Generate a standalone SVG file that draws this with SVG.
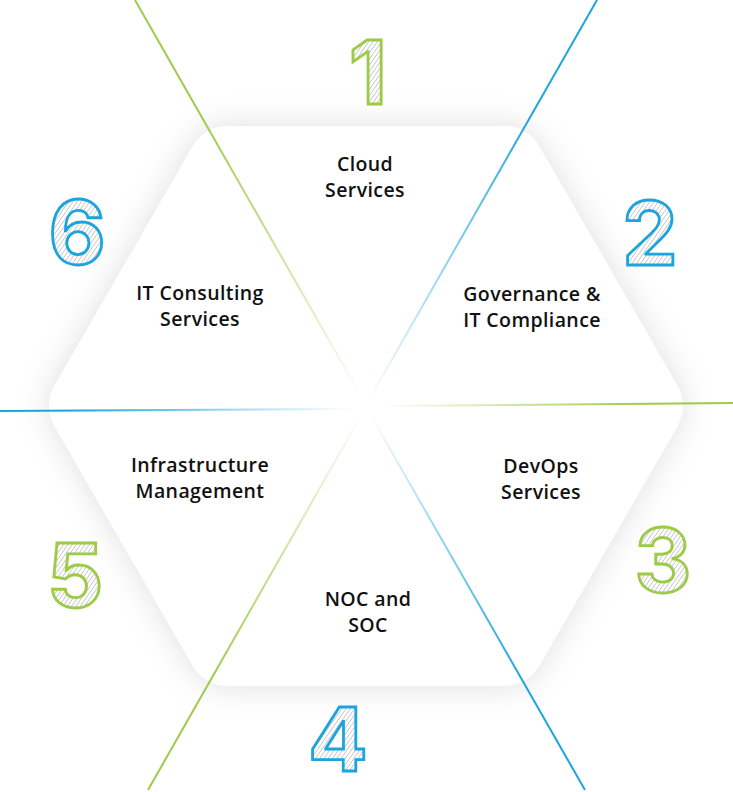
<svg xmlns="http://www.w3.org/2000/svg" width="733" height="792" viewBox="0 0 733 792">
<defs>
<style>
.lbl{font-family:"Open Sans","Liberation Sans",sans-serif;font-weight:600;font-size:19.5px;letter-spacing:0.4px;fill:#111;text-anchor:middle}
.num{font-family:Inter,"Open Sans","Liberation Sans",sans-serif;font-weight:700;font-size:88px;text-anchor:middle;fill:url(#hatch);stroke-width:2.8}
.g{stroke:#9dcb48}
.b{stroke:#1ba5de}
.ln{stroke-width:2;fill:none}
</style>
<pattern id="hatch" width="3.5" height="3.5" patternUnits="userSpaceOnUse" patternTransform="rotate(35)">
<rect width="3.5" height="3.5" fill="#fff"/>
<line x1="0" y1="0" x2="0" y2="3.5" stroke="#b4b4b4" stroke-width="1.3"/>
</pattern>
<filter id="sh" x="-20%" y="-20%" width="140%" height="140%">
<feDropShadow dx="0" dy="0" stdDeviation="16" flood-color="#000" flood-opacity="0.13"/>
</filter>
<linearGradient id="gTL" gradientUnits="userSpaceOnUse" x1="135" y1="0" x2="362" y2="398"><stop offset="0.3" stop-color="#9dcb48"/><stop offset="1" stop-color="#9dcb48" stop-opacity="0"/></linearGradient>
<linearGradient id="gTR" gradientUnits="userSpaceOnUse" x1="597" y1="0" x2="370" y2="398"><stop offset="0.3" stop-color="#1ba5de"/><stop offset="1" stop-color="#1ba5de" stop-opacity="0"/></linearGradient>
<linearGradient id="gR" gradientUnits="userSpaceOnUse" x1="733" y1="403" x2="380" y2="406"><stop offset="0.25" stop-color="#9dcb48"/><stop offset="1" stop-color="#9dcb48" stop-opacity="0"/></linearGradient>
<linearGradient id="gL" gradientUnits="userSpaceOnUse" x1="0" y1="411" x2="352" y2="409"><stop offset="0.2" stop-color="#1ba5de"/><stop offset="1" stop-color="#1ba5de" stop-opacity="0"/></linearGradient>
<linearGradient id="gBL" gradientUnits="userSpaceOnUse" x1="148" y1="790" x2="362" y2="414"><stop offset="0.3" stop-color="#9dcb48"/><stop offset="1" stop-color="#9dcb48" stop-opacity="0"/></linearGradient>
<linearGradient id="gBR" gradientUnits="userSpaceOnUse" x1="585" y1="790" x2="370" y2="414"><stop offset="0.3" stop-color="#1ba5de"/><stop offset="1" stop-color="#1ba5de" stop-opacity="0"/></linearGradient>
</defs>
<rect width="733" height="792" fill="#fff"/>
<g id="hexagon">
<path filter="url(#sh)" fill="#fff" d="M229.5,126 L502.5,126 Q527.5,126 540,147.65 L676.5,384.35 Q689,406 676.5,427.65 L540,664.35 Q527.5,686 502.5,686 L229.5,686 Q204.5,686 192,664.35 L55.5,427.65 Q43,406 55.5,384.35 L192,147.65 Q204.5,126 229.5,126 Z"/>
</g>
<g id="connectors">
<line class="ln" stroke="url(#gTL)" x1="135" y1="0" x2="362" y2="398"/>
<line class="ln" stroke="url(#gTR)" x1="597" y1="0" x2="370" y2="398"/>
<line class="ln" stroke="url(#gR)" x1="733" y1="403" x2="380" y2="406"/>
<line class="ln" stroke="url(#gL)" x1="0" y1="411" x2="352" y2="409"/>
<line class="ln" stroke="url(#gBL)" x1="148" y1="790" x2="362" y2="414"/>
<line class="ln" stroke="url(#gBR)" x1="585" y1="790" x2="370" y2="414"/>
</g>
<g id="node1"><text class="num g" x="368" y="104">1</text><text class="lbl" x="365" y="171">Cloud</text><text class="lbl" x="365" y="197">Services</text></g>
<g id="node2"><text class="num b" x="650" y="265">2</text><text class="lbl" x="532" y="301">Governance &amp;</text><text class="lbl" x="532" y="327">IT Compliance</text></g>
<g id="node3"><text class="num g" x="663" y="592">3</text><text class="lbl" x="541" y="473">DevOps</text><text class="lbl" x="541" y="499">Services</text></g>
<g id="node4"><text class="num b" x="338" y="771">4</text><text class="lbl" x="368" y="606">NOC and</text><text class="lbl" x="368" y="632">SOC</text></g>
<g id="node5"><text class="num g" x="75" y="607">5</text><text class="lbl" x="200" y="472">Infrastructure</text><text class="lbl" x="200" y="498">Management</text></g>
<g id="node6"><text class="num b" x="77" y="264">6</text><text class="lbl" x="200" y="300">IT Consulting</text><text class="lbl" x="200" y="326">Services</text></g>
</svg>
